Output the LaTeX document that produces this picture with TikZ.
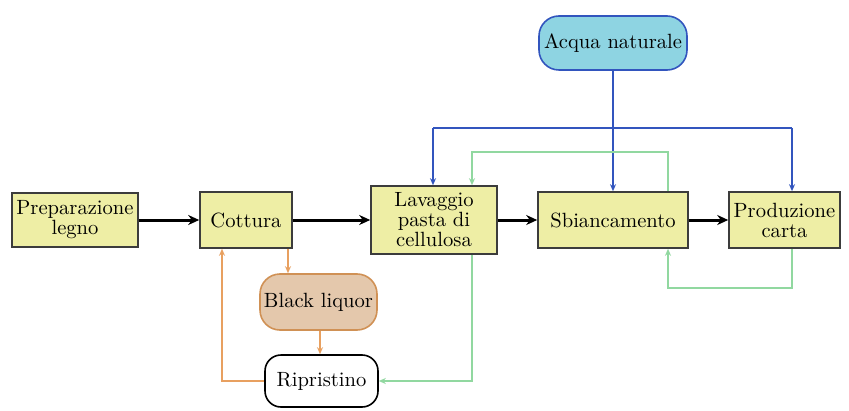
\documentclass[tikz,border=0pt]{standalone}
\usetikzlibrary{arrows.meta}
\definecolor{boxfill}{RGB}{238,238,165}
\definecolor{boxdraw}{RGB}{60,60,60}
\definecolor{acquafill}{RGB}{142,212,226}
\definecolor{acquadraw}{RGB}{50,85,190}
\definecolor{liqfill}{RGB}{228,200,172}
\definecolor{liqdraw}{RGB}{208,145,85}
\definecolor{orangeline}{RGB}{232,160,96}
\definecolor{greenline}{RGB}{145,216,160}
\definecolor{blueline}{RGB}{50,85,190}
\tikzset{
  procbox/.style={draw=boxdraw, fill=boxfill, line width=0.8pt, inner sep=0pt, align=center,
    font=\fontsize{10.3}{10}\selectfont},
  roundbox/.style={rounded corners=10pt, line width=0.8pt, inner sep=0pt, align=center,
    font=\fontsize{10.3}{10}\selectfont},
  mainarrow/.style={-{Stealth[length=5.5pt,width=5pt]}, line width=1.5pt, black},
  bluearrow/.style={line width=1pt, blueline},
  greenarrow/.style={line width=0.8pt, greenline},
  orangearrow/.style={line width=0.7pt, orangeline},
  smalltip/.style={-{Stealth[length=3.5pt,width=3pt]}}
}
\begin{document}
\begin{tikzpicture}[x=0.5pt, y=-0.5pt]
\useasboundingbox (0,0) rectangle (849,411);
\fill[white] (0,0) rectangle (849,411);

\node[procbox, minimum width=63pt, minimum height=27pt] (prep) at (75,220) {Preparazione\\legno};
\node[procbox, minimum width=46pt, minimum height=28pt] (cott) at (246,220) {Cottura};
\node[procbox, minimum width=63pt, minimum height=34pt] (lav) at (434,220) {Lavaggio\\pasta di\\cellulosa};
\node[procbox, minimum width=75pt, minimum height=28pt] (sb) at (613,220) {Sbiancamento};
\node[procbox, minimum width=55.5pt, minimum height=28pt] (prod) at (784.5,220) {Produzione\\carta};
\node[roundbox, draw=acquadraw, fill=acquafill, minimum width=74pt, minimum height=27pt] (acqua) at (613,43) {Acqua naturale};
\node[roundbox, draw=liqdraw, fill=liqfill, minimum width=58.5pt, minimum height=28pt] (liq) at (318.5,302) {Black liquor};
\node[roundbox, draw=black, fill=white, rounded corners=8pt, minimum width=56.5pt, minimum height=26pt] (rip) at (321.5,381) {Ripristino};

% main flow
\draw[mainarrow] (prep) -- (cott);
\draw[mainarrow] (cott) -- (lav);
\draw[mainarrow] (lav) -- (sb);
\draw[mainarrow] (sb) -- (prod);

% blue water distribution
\coordinate (bL) at (433,128);
\coordinate (bR) at (792,128);
\draw[bluearrow] (bL) -- (bR);
\draw[bluearrow, smalltip] (acqua.south) -- (sb.north);
\draw[bluearrow, smalltip] (bL) -- (bL |- lav.north);
\draw[bluearrow, smalltip] (bR) -- (bR |- prod.north);

% green recycle
\coordinate (g1) at (792,288);
\coordinate (g2) at (668,288);
\draw[greenarrow, smalltip] (g1 |- prod.south) -- (g1) -- (g2) -- (g2 |- sb.south);
\coordinate (g3) at (668,152);
\coordinate (g4) at (472,152);
\draw[greenarrow, smalltip] (g3 |- sb.north) -- (g3) -- (g4) -- (g4 |- lav.north);
\coordinate (g5) at (472,381);
\draw[greenarrow, smalltip] (g5 |- lav.south) -- (g5) -- (rip.east);

% orange liquor loop
\coordinate (o1) at (288,0);
\draw[orangearrow, smalltip] (o1 |- cott.south) -- (o1 |- liq.north);
\coordinate (o3) at (320,0);
\draw[orangearrow, smalltip] (o3 |- liq.south) -- (o3 |- rip.north);
\coordinate (o2) at (222,381);
\draw[orangearrow, smalltip] (rip.west) -- (o2) -- (o2 |- cott.south);
\end{tikzpicture}
\end{document}
